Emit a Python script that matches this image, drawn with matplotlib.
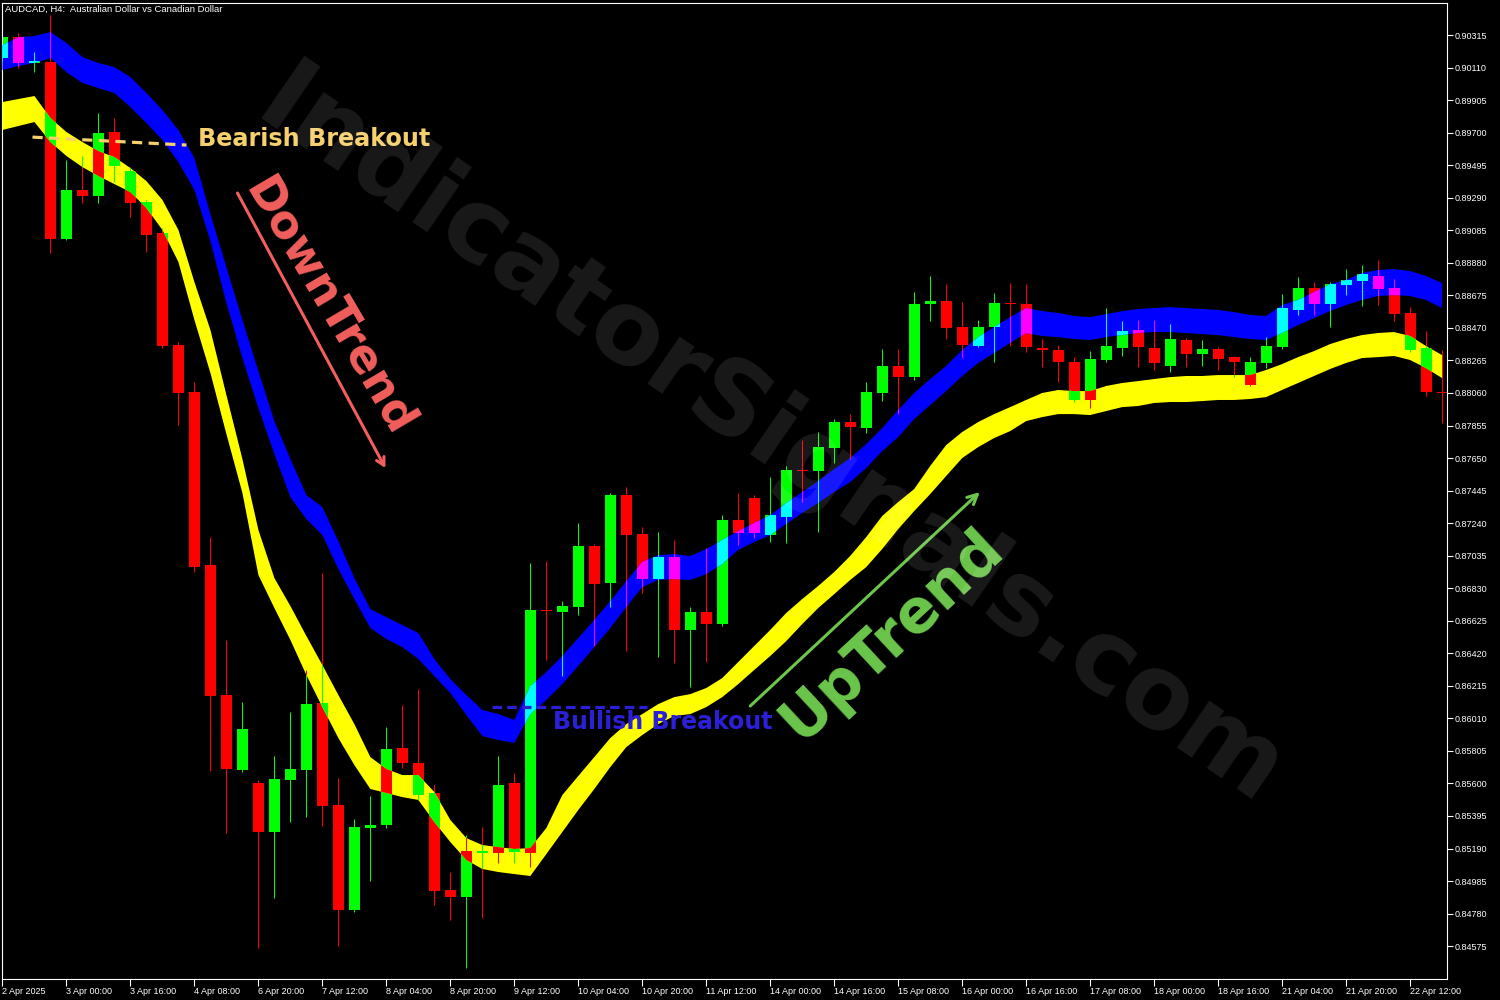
import matplotlib
matplotlib.use("Agg")
import matplotlib.pyplot as plt
from matplotlib.patches import Polygon
import numpy as np

symbol_title = "AUDCAD, H4:  Australian Dollar vs Canadian Dollar"

time_labels = ["2 Apr 2025", "3 Apr 00:00", "3 Apr 16:00", "4 Apr 08:00", "6 Apr 20:00",
               "7 Apr 12:00", "8 Apr 04:00", "8 Apr 20:00", "9 Apr 12:00", "10 Apr 04:00",
               "10 Apr 20:00", "11 Apr 12:00", "14 Apr 00:00", "14 Apr 16:00", "15 Apr 08:00",
               "16 Apr 00:00", "16 Apr 16:00", "17 Apr 08:00", "18 Apr 00:00", "18 Apr 16:00",
               "21 Apr 04:00", "21 Apr 20:00", "22 Apr 12:00"]

price_ticks = [0.90315, 0.90110, 0.89905, 0.89700, 0.89495, 0.89290, 0.89085, 0.88880,
               0.88675, 0.88470, 0.88265, 0.88060, 0.87855, 0.87650, 0.87445, 0.87240,
               0.87035, 0.86830, 0.86625, 0.86420, 0.86215, 0.86010, 0.85805, 0.85600,
               0.85395, 0.85190, 0.84985, 0.84780, 0.84575]

opens = [0.90170, 0.90302, 0.90145, 0.90145, 0.89030, 0.89339, 0.89301, 0.89704, 0.89458, 0.89263,
         0.89068, 0.88362, 0.88066, 0.86976, 0.86157, 0.85685, 0.85603, 0.85294, 0.85622, 0.85685,
         0.86107, 0.85464, 0.84803, 0.85319, 0.85338, 0.85823, 0.85729, 0.85540, 0.84929, 0.84884,
         0.85174, 0.85162, 0.85603, 0.85162, 0.86693, 0.86680, 0.86711, 0.87096, 0.86863, 0.87417,
         0.87171, 0.86888, 0.87026, 0.86567, 0.86680, 0.86604, 0.87260, 0.87398, 0.87165, 0.87278,
         0.87575, 0.87568, 0.87713, 0.87877, 0.87839, 0.88060, 0.88230, 0.88160, 0.88620, 0.88639,
         0.88475, 0.88356, 0.88475, 0.88627, 0.88620, 0.88343, 0.88331, 0.88255, 0.88016, 0.88268,
         0.88343, 0.88457, 0.88343, 0.88230, 0.88394, 0.88305, 0.88337, 0.88286, 0.88110, 0.88249,
         0.88349, 0.88583, 0.88721, 0.88620, 0.88740, 0.88765, 0.88797, 0.88721, 0.88564, 0.88343,
         0.88066]

highs = [0.90321, 0.90328, 0.90208, 0.90441, 0.89528, 0.89553, 0.89824, 0.89792, 0.89483, 0.89276,
         0.89099, 0.88381, 0.88129, 0.87152, 0.86504, 0.86113, 0.85622, 0.85773, 0.86050, 0.86315,
         0.86926, 0.85634, 0.85376, 0.85521, 0.85955, 0.86094, 0.86195, 0.85590, 0.85042, 0.85275,
         0.85325, 0.85773, 0.85666, 0.86989, 0.87001, 0.86749, 0.87241, 0.87108, 0.87430, 0.87467,
         0.87215, 0.87184, 0.87134, 0.86711, 0.87083, 0.87291, 0.87430, 0.87417, 0.87530, 0.87600,
         0.87764, 0.87814, 0.87896, 0.87927, 0.88129, 0.88337, 0.88337, 0.88696, 0.88797, 0.88746,
         0.88633, 0.88520, 0.88690, 0.88753, 0.88746, 0.88400, 0.88362, 0.88286, 0.88324, 0.88595,
         0.88513, 0.88520, 0.88520, 0.88494, 0.88406, 0.88394, 0.88349, 0.88293, 0.88286, 0.88412,
         0.88683, 0.88790, 0.88759, 0.88759, 0.88841, 0.88866, 0.88898, 0.88778, 0.88601, 0.88450,
         0.88331]

lows = [0.90145, 0.90107, 0.90082, 0.88942, 0.89024, 0.89257, 0.89257, 0.89389, 0.89168, 0.88948,
        0.88343, 0.87858, 0.86932, 0.85678, 0.85288, 0.85672, 0.84563, 0.84878, 0.85357, 0.85388,
        0.85332, 0.84576, 0.84790, 0.84985, 0.85319, 0.85697, 0.85496, 0.84834, 0.84740, 0.84437,
        0.84752, 0.85099, 0.85099, 0.85073, 0.86378, 0.86277, 0.86661, 0.86466, 0.86711, 0.86434,
        0.86800, 0.86396, 0.86359, 0.86207, 0.86365, 0.86592, 0.87102, 0.87146, 0.87121, 0.87115,
        0.87373, 0.87184, 0.87619, 0.87644, 0.87808, 0.88009, 0.87927, 0.88142, 0.88513, 0.88400,
        0.88280, 0.88349, 0.88255, 0.88356, 0.88318, 0.88223, 0.88129, 0.88003, 0.87965, 0.88255,
        0.88293, 0.88223, 0.88205, 0.88192, 0.88223, 0.88230, 0.88205, 0.88160, 0.88104, 0.88217,
        0.88337, 0.88551, 0.88551, 0.88475, 0.88677, 0.88608, 0.88614, 0.88513, 0.88318, 0.88041,
        0.87871]

closes = [0.90302, 0.90139, 0.90151, 0.89030, 0.89339, 0.89301, 0.89698, 0.89490, 0.89257, 0.89055,
          0.88356, 0.88060, 0.86963, 0.86151, 0.85691, 0.85943, 0.85294, 0.85628, 0.85691, 0.86100,
          0.85458, 0.84803, 0.85325, 0.85338, 0.85817, 0.85729, 0.85527, 0.84922, 0.84884, 0.85174,
          0.85162, 0.85590, 0.85168, 0.86693, 0.86686, 0.86718, 0.87096, 0.86856, 0.87417, 0.87165,
          0.86888, 0.87026, 0.86567, 0.86680, 0.86604, 0.87260, 0.87178, 0.87178, 0.87291, 0.87575,
          0.87568, 0.87719, 0.87877, 0.87845, 0.88066, 0.88230, 0.88160, 0.88620, 0.88639, 0.88469,
          0.88362, 0.88475, 0.88627, 0.88620, 0.88349, 0.88331, 0.88255, 0.88016, 0.88274, 0.88356,
          0.88450, 0.88349, 0.88249, 0.88400, 0.88305, 0.88337, 0.88274, 0.88255, 0.88255, 0.88356,
          0.88595, 0.88721, 0.88620, 0.88746, 0.88772, 0.88809, 0.88715, 0.88557, 0.88331, 0.88066,
          0.88060]

blue_upper = [0.90252, 0.90302, 0.90309, 0.90334, 0.90265, 0.90176, 0.90139, 0.90113, 0.90050, 0.89950,
              0.89843, 0.89717, 0.89540, 0.89187, 0.88853, 0.88520, 0.88198, 0.87883, 0.87644, 0.87417,
              0.87341, 0.87127, 0.86894, 0.86699, 0.86648, 0.86598, 0.86548, 0.86384, 0.86258, 0.86157,
              0.86063, 0.86037, 0.86000, 0.86214, 0.86302, 0.86403, 0.86516, 0.86630, 0.86749, 0.86875,
              0.86995, 0.87039, 0.87045, 0.87033, 0.87077, 0.87134, 0.87190, 0.87241, 0.87291, 0.87367,
              0.87436, 0.87505, 0.87581, 0.87650, 0.87738, 0.87839, 0.87953, 0.88060, 0.88148, 0.88230,
              0.88331, 0.88412, 0.88475, 0.88538, 0.88595, 0.88576, 0.88564, 0.88545, 0.88538, 0.88557,
              0.88576, 0.88589, 0.88595, 0.88601, 0.88595, 0.88589, 0.88583, 0.88570, 0.88551, 0.88545,
              0.88614, 0.88646, 0.88696, 0.88746, 0.88772, 0.88816, 0.88835, 0.88841, 0.88828, 0.88797,
              0.88753]

blue_lower = [0.90095, 0.90120, 0.90139, 0.90170, 0.90082, 0.90013, 0.89981, 0.89950, 0.89861, 0.89761,
              0.89654, 0.89515, 0.89339, 0.89017, 0.88627, 0.88280, 0.87965, 0.87675, 0.87404, 0.87266,
              0.87165, 0.86951, 0.86762, 0.86579, 0.86510, 0.86459, 0.86384, 0.86277, 0.86170, 0.86031,
              0.85899, 0.85874, 0.85855, 0.86037, 0.86126, 0.86226, 0.86340, 0.86459, 0.86579, 0.86711,
              0.86837, 0.86882, 0.86888, 0.86882, 0.86919, 0.86982, 0.87071, 0.87121, 0.87165, 0.87234,
              0.87304, 0.87367, 0.87436, 0.87499, 0.87587, 0.87694, 0.87782, 0.87896, 0.87984, 0.88072,
              0.88167, 0.88249, 0.88312, 0.88375, 0.88438, 0.88419, 0.88412, 0.88400, 0.88394, 0.88412,
              0.88425, 0.88438, 0.88444, 0.88444, 0.88438, 0.88431, 0.88425, 0.88412, 0.88400, 0.88394,
              0.88438, 0.88488, 0.88532, 0.88576, 0.88614, 0.88646, 0.88671, 0.88677, 0.88671, 0.88646,
              0.88595]

yellow_upper = [0.89893, 0.89912, 0.89931, 0.89792, 0.89704, 0.89641, 0.89584, 0.89546, 0.89477, 0.89395,
                0.89276, 0.89087, 0.88759, 0.88457, 0.88047, 0.87644, 0.87197, 0.86894, 0.86718, 0.86529,
                0.86346, 0.86157, 0.85974, 0.85766, 0.85691, 0.85653, 0.85653, 0.85546, 0.85370, 0.85256,
                0.85212, 0.85199, 0.85187, 0.85193, 0.85319, 0.85527, 0.85647, 0.85766, 0.85886, 0.85974,
                0.86037, 0.86100, 0.86144, 0.86163, 0.86201, 0.86264, 0.86365, 0.86466, 0.86567, 0.86674,
                0.86762, 0.86844, 0.86932, 0.87033, 0.87152, 0.87285, 0.87373, 0.87455, 0.87600, 0.87732,
                0.87814, 0.87877, 0.87927, 0.87971, 0.88016, 0.88060, 0.88079, 0.88072, 0.88072, 0.88104,
                0.88123, 0.88135, 0.88148, 0.88160, 0.88167, 0.88167, 0.88173, 0.88173, 0.88173, 0.88205,
                0.88242, 0.88286, 0.88324, 0.88368, 0.88400, 0.88425, 0.88438, 0.88444, 0.88419, 0.88356,
                0.88299]

yellow_lower = [0.89717, 0.89742, 0.89767, 0.89641, 0.89553, 0.89483, 0.89427, 0.89376, 0.89326, 0.89225,
                0.89087, 0.88885, 0.88520, 0.88186, 0.87801, 0.87430, 0.86913, 0.86705, 0.86504, 0.86283,
                0.86081, 0.85886, 0.85716, 0.85565, 0.85540, 0.85514, 0.85496, 0.85357, 0.85231, 0.85118,
                0.85061, 0.85042, 0.85029, 0.85017, 0.85155, 0.85294, 0.85433, 0.85565, 0.85703, 0.85829,
                0.85905, 0.85974, 0.86025, 0.86037, 0.86081, 0.86144, 0.86226, 0.86315, 0.86403, 0.86497,
                0.86604, 0.86705, 0.86793, 0.86882, 0.86963, 0.87077, 0.87203, 0.87316, 0.87423, 0.87537,
                0.87650, 0.87719, 0.87776, 0.87820, 0.87883, 0.87908, 0.87927, 0.87927, 0.87921, 0.87946,
                0.87971, 0.87978, 0.87997, 0.88003, 0.88003, 0.88009, 0.88016, 0.88016, 0.88022, 0.88034,
                0.88079, 0.88123, 0.88167, 0.88211, 0.88249, 0.88280, 0.88286, 0.88293, 0.88268, 0.88217,
                0.88154]

plt.rcParams["font.family"] = ["Liberation Sans", "DejaVu Sans"]

o = np.array(opens)
h = np.array(highs)
l = np.array(lows)
c = np.array(closes)
n = len(o)
x = np.arange(n)
up = c >= o

min_body = 0.00012
body_h = np.maximum(np.abs(c - o), min_body)
body_b = (o + c) / 2 - body_h / 2

fig = plt.figure(figsize=(15, 10), dpi=100, facecolor="black")
ax = fig.add_axes([2 / 1500, 21 / 1000, 1445 / 1500, 976 / 1000])
ax.set_facecolor("black")
ax.set_xlim(-0.03, 90.31)
ax.set_ylim(0.84368, 0.90517)


def draw_candles(colors, z, clip=None):
    lc = ax.vlines(x, l, h, colors=colors, linewidth=0.75, zorder=z)
    bars = ax.bar(x, body_h, bottom=body_b, width=0.69, color=colors,
                  linewidth=0, zorder=z, antialiased=False)
    if clip is not None:
        lc.set_clip_path(clip)
        for b in bars:
            b.set_clip_path(clip)


def band(upper, lower, color):
    verts = list(zip(x, upper)) + list(zip(x[::-1], np.array(lower)[::-1]))
    p = Polygon(verts, closed=True, facecolor=color, edgecolor="none", zorder=3)
    ax.add_patch(p)
    return p


draw_candles(np.where(up, "#00ff00", "#ff0000"), 2)
yellow_patch = band(yellow_upper, yellow_lower, "#ffff00")
blue_patch = band(blue_upper, blue_lower, "#0000ff")
draw_candles(np.where(up, "#ff0000", "#00ff00"), 4, yellow_patch)
draw_candles(np.where(up, "#00ffff", "#ff00ff"), 4, blue_patch)

# Annotations
gold = "#f6d06c"
coral = "#f25f5c"
violet = "#2c1fd8"
lime = "#6cc64b"
ax.plot([1.875, 11.5], [0.89672, 0.89622], color=gold, linewidth=2.3,
        linestyle=(0, (3.2, 2.0)), zorder=5, solid_capstyle="butt")
ax.text(12.25, 0.89660, "Bearish Breakout", color=gold, fontsize=17.2, fontweight="bold",
        family="DejaVu Sans", ha="left", va="center", zorder=5)

ax.text(20.4, 0.88600, "DownTrend", color=coral, fontsize=33, fontweight="bold",
        family="DejaVu Sans", ha="center", va="center", rotation=-59.5,
        rotation_mode="anchor", zorder=5)
ax.annotate("", xy=(23.94, 0.87587), xytext=(14.69, 0.89320),
            arrowprops=dict(arrowstyle="->,head_length=0.55,head_width=0.3", color=coral,
                            linewidth=2.2, shrinkA=0, shrinkB=0), zorder=5)

ax.plot([30.63, 40.31], [0.86081, 0.86081], color=violet, linewidth=2.3,
        linestyle=(0, (3.0, 1.6)), zorder=5, solid_capstyle="butt")
ax.text(34.44, 0.85987, "Bullish Breakout", color=violet, fontsize=17, fontweight="bold",
        family="DejaVu Sans", ha="left", va="center", zorder=5)

ax.text(55.6, 0.86540, "UpTrend", color=lime, fontsize=43, fontweight="bold",
        family="DejaVu Sans", ha="center", va="center", rotation=43,
        rotation_mode="anchor", zorder=5)
ax.annotate("", xy=(61.1, 0.87436), xytext=(46.75, 0.86088),
            arrowprops=dict(arrowstyle="->,head_length=0.7,head_width=0.35", color=lime,
                            linewidth=2.2, shrinkA=0, shrinkB=0), zorder=5)

# Watermark
ax.text(48.0, 0.87764, "IndicatorSignals.com", color="white", alpha=0.10, fontsize=74,
        fontweight="bold", family="DejaVu Sans", ha="center", va="center",
        rotation=-34.5, rotation_mode="anchor", zorder=6)

# Axes styling
for s in ax.spines.values():
    s.set_color("white")
    s.set_linewidth(0.8)

ax.yaxis.tick_right()
ax.set_yticks(price_ticks)
ax.set_yticklabels([f"{v:.5f}" for v in price_ticks])
ax.tick_params(axis="y", colors="white", labelsize=6.5, length=4, width=0.8, pad=1.5,
               direction="out")
ax.set_xticks(x[::4][:len(time_labels)])
ax.set_xticklabels(time_labels, ha="left")
ax.tick_params(axis="x", colors="white", labelsize=6.5, length=5, width=0.8, pad=1,
               direction="out")

fig.text(5 / 1500, 1 - 9 / 1000, symbol_title, color="white", fontsize=6.8,
         ha="left", va="center")

fig.savefig("out.png", dpi=100, facecolor="black")
